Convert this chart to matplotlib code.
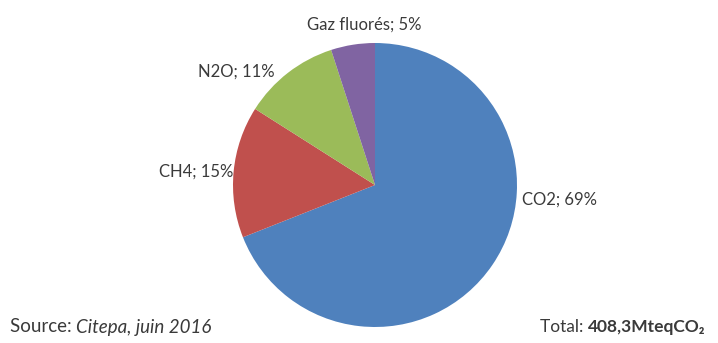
import matplotlib
matplotlib.use("Agg")
import matplotlib.pyplot as plt

labels = ["CO2", "CH4", "N2O", "Gaz fluorés"]
values = [69, 15, 11, 5]
colors = ["#4F81BD", "#C0504D", "#9BBB59", "#8064A2"]
label_pos = [(1.035, -0.106, "left"), (-1.0, 0.092, "right"), (-0.98, 0.80, "center"), (-0.077, 1.13, "center")]

FONT = ["Lato", "DejaVu Sans"]
TXT = "#3A3A3A"

fig = plt.figure(figsize=(7.18, 3.43), dpi=100)
W, H = 718, 343
cx, cy, r = 375, 185, 142
ax = fig.add_axes([(cx - r) / W, (H - cy - r) / H, 2 * r / W, 2 * r / H])
ax.pie(values, colors=colors, startangle=90, counterclock=False,
       wedgeprops=dict(linewidth=0), radius=1)
ax.set_xlim(-1, 1)
ax.set_ylim(-1, 1)
ax.set_aspect("equal")
ax.axis("off")

for lab, v, (x, y, ha) in zip(labels, values, label_pos):
    ax.text(x, y, f"{lab}; {v}%", ha=ha, va="center", fontsize=12,
            color=TXT, family=FONT, clip_on=False)

src = fig.text(10 / W, 1 - 327 / H, "Source: ", fontsize=13.5, color=TXT,
               family=FONT, va="center", ha="left")
fig.canvas.draw()
ax.annotate("Citepa, juin 2016", xy=(1, 0), xycoords=src, va="bottom", ha="left",
            fontsize=13.5, color=TXT, family=FONT, style="italic")

tot = fig.text(705 / W, 1 - 327 / H, "408,3MteqCO₂", fontsize=12.5, color=TXT,
               family=FONT, weight="bold", va="center", ha="right")
ax.annotate("Total: ", xy=(0, 0), xycoords=tot, va="bottom", ha="right",
            fontsize=12.5, color=TXT, family=FONT)

fig.savefig("out.png", dpi=100, facecolor="white")
